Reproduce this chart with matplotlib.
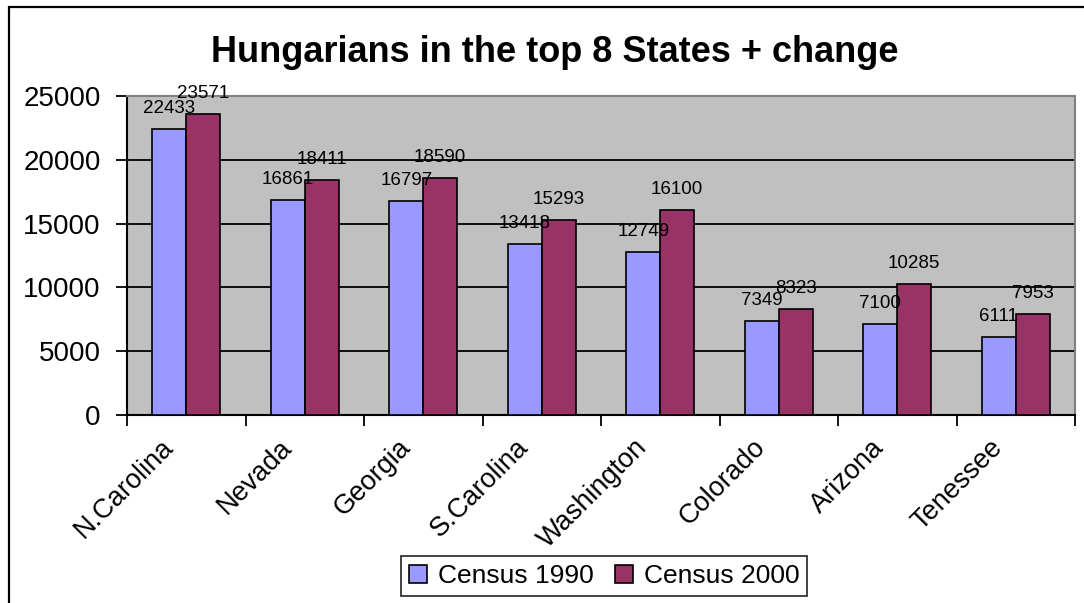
import numpy as np
import matplotlib.pyplot as plt
from matplotlib.patches import Rectangle

states = ["N.Carolina", "Nevada", "Georgia", "S.Carolina",
          "Washington", "Colorado", "Arizona", "Tenessee"]
census_1990 = [22433, 16861, 16797, 13418, 12749, 7349, 7100, 6111]
census_2000 = [23571, 18411, 18590, 15293, 16100, 8323, 10285, 7953]

plt.rcParams["font.family"] = ["Liberation Sans", "DejaVu Sans"]

W, H = 1084, 603
fig = plt.figure(figsize=(W / 100, H / 100), dpi=100)

# outer chart border (only top and left are visible in the reference)
fig.patches.append(Rectangle((9 / W, -0.2), 1.2, 1.2 - 7 / H,
                             transform=fig.transFigure, fill=False,
                             edgecolor="black", linewidth=1.6))

ax = fig.add_axes([127 / W, 1 - 415 / H, (1075 - 127) / W, (415 - 96) / H])
ax.set_facecolor("#C0C0C0")

x = np.arange(len(states))
width = 1 / 3.5
b1 = ax.bar(x - width / 2, census_1990, width, color="#9999FF",
            edgecolor="black", linewidth=1.2, label="Census 1990", zorder=3)
b2 = ax.bar(x + width / 2, census_2000, width, color="#993366",
            edgecolor="black", linewidth=1.2, label="Census 2000", zorder=3)

for bars, vals in [(b1, census_1990), (b2, census_2000)]:
    for rect, v in zip(bars, vals):
        ax.annotate(str(v), (rect.get_x() + rect.get_width() / 2, v),
                    xytext=(0, 11.5), textcoords="offset points",
                    ha="center", va="baseline", fontsize=13.5, zorder=4)

ax.set_xlim(-0.5, len(states) - 0.5)
ax.set_ylim(0, 25000)
ax.set_yticks(np.arange(0, 25001, 5000))
ax.yaxis.grid(True, color="black", linewidth=1.3, zorder=1)
ax.set_axisbelow(True)

ax.set_xticks(np.arange(len(states) + 1) - 0.5)
ax.set_xticklabels([])
# labels sit a bit left of the category centre, like Excel does it
ax.set_xticks(x - 0.22, minor=True)
ax.set_xticklabels(states, minor=True, rotation=45, ha="right",
                   rotation_mode="anchor", fontsize=19.5)
ax.tick_params(axis="x", which="minor", length=0, pad=14)
ax.tick_params(axis="x", which="major", length=8, width=1.3)
ax.tick_params(axis="y", length=8, width=1.3, labelsize=20, pad=11)

for side in ["left", "bottom"]:
    ax.spines[side].set_color("black")
    ax.spines[side].set_linewidth(1.5)
for side in ["top", "right"]:
    ax.spines[side].set_color("#808080")
    ax.spines[side].set_linewidth(1.5)

fig.text(555 / W, 1 - 53 / H, "Hungarians in the top 8 States + change",
         ha="center", va="center", fontsize=26, fontweight="bold")

leg = fig.legend(loc="center", bbox_to_anchor=(604 / W, 1 - 576 / H),
                 ncol=2, fontsize=19, frameon=True, fancybox=False,
                 edgecolor="black", handlelength=0.7, handleheight=0.7,
                 handletextpad=0.4, columnspacing=0.8, borderpad=0.3,
                 borderaxespad=0)
leg.get_frame().set_linewidth(1.3)

fig.savefig("out.png", dpi=100)
